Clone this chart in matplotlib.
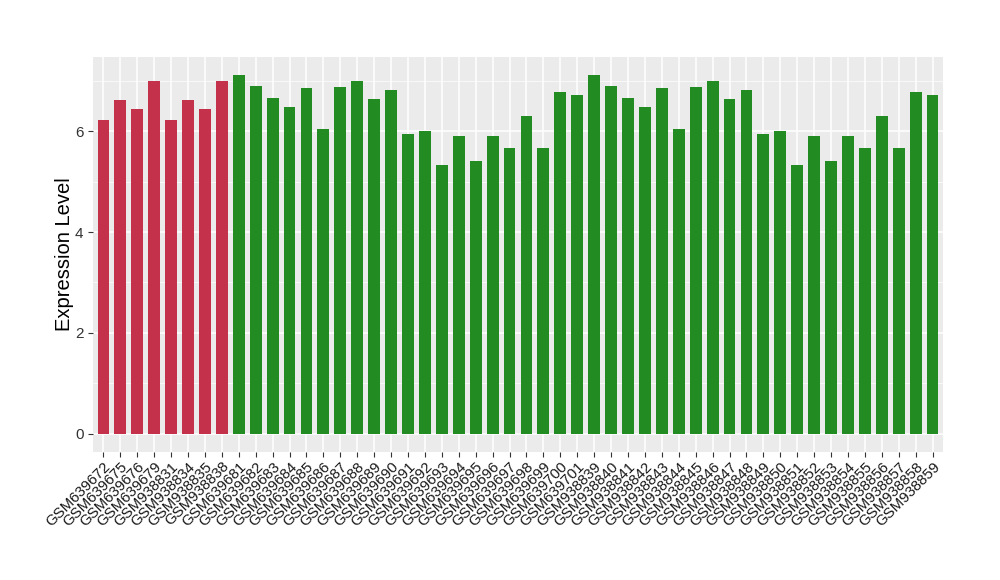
import matplotlib
matplotlib.use("Agg")
import matplotlib.pyplot as plt
from matplotlib.ticker import MultipleLocator

samples = ["GSM639672", "GSM639675", "GSM639676", "GSM639679",
           "GSM938831", "GSM938834", "GSM938835", "GSM938838"] + \
          ["GSM6396%02d" % i for i in range(81, 100)] + ["GSM639700", "GSM639701"] + \
          ["GSM9388%02d" % i for i in range(39, 60)]

values = [6.23, 6.61, 6.43, 7.00, 6.23, 6.61, 6.43, 7.00,
          7.12, 6.90, 6.65, 6.47, 6.85, 6.05, 6.87, 7.00, 6.63, 6.81,
          5.95, 6.01, 5.32, 5.91, 5.40, 5.91, 5.67, 6.31, 5.67, 6.77, 6.71,
          7.12, 6.90, 6.65, 6.47, 6.85, 6.05, 6.87, 7.00, 6.63, 6.81,
          5.95, 6.01, 5.32, 5.91, 5.40, 5.91, 5.67, 6.31, 5.67, 6.77, 6.71]

groups = ["a"] * 8 + ["b"] * 42
group_colors = {"a": "#C4314B", "b": "#228B22"}

plt.rcParams['font.family'] = ['Liberation Sans', 'DejaVu Sans']

fig = plt.figure(figsize=(10, 5.8), dpi=100)
ax = fig.add_axes([0.0933, 0.2212, 0.8494, 0.681])
ax.set_facecolor("#EBEBEB")

x = list(range(len(samples)))
ax.bar(x, values, width=0.7, color=[group_colors[g] for g in groups], zorder=3)

n = len(samples)
ax.set_xlim(-0.6, n - 1 + 0.6)
vmax = max(values)
ax.set_ylim(-0.05 * vmax, vmax * 1.05)

ax.yaxis.set_major_locator(MultipleLocator(2))
ax.yaxis.set_minor_locator(MultipleLocator(1))
ax.grid(which="major", axis="both", color="white", linewidth=1.1, zorder=0)
ax.grid(which="minor", axis="y", color="white", linewidth=0.5, zorder=0)
ax.set_axisbelow(True)

ax.set_xticks(x)
ax.set_xticklabels(samples, rotation=45, ha="right", va="top",
                   rotation_mode="anchor", fontsize=10.8, color="#1a1a1a")
ax.tick_params(axis="both", which="major", length=3.5, color="#333333", width=0.8)
ax.tick_params(axis="y", which="minor", length=0)
ax.tick_params(axis="y", labelsize=11, labelcolor="#333333")
ax.tick_params(axis="x", pad=2)

for s in ax.spines.values():
    s.set_visible(False)

ax.set_ylabel("Expression Level", fontsize=14.5, labelpad=1)

fig.savefig("out.png", dpi=100)
